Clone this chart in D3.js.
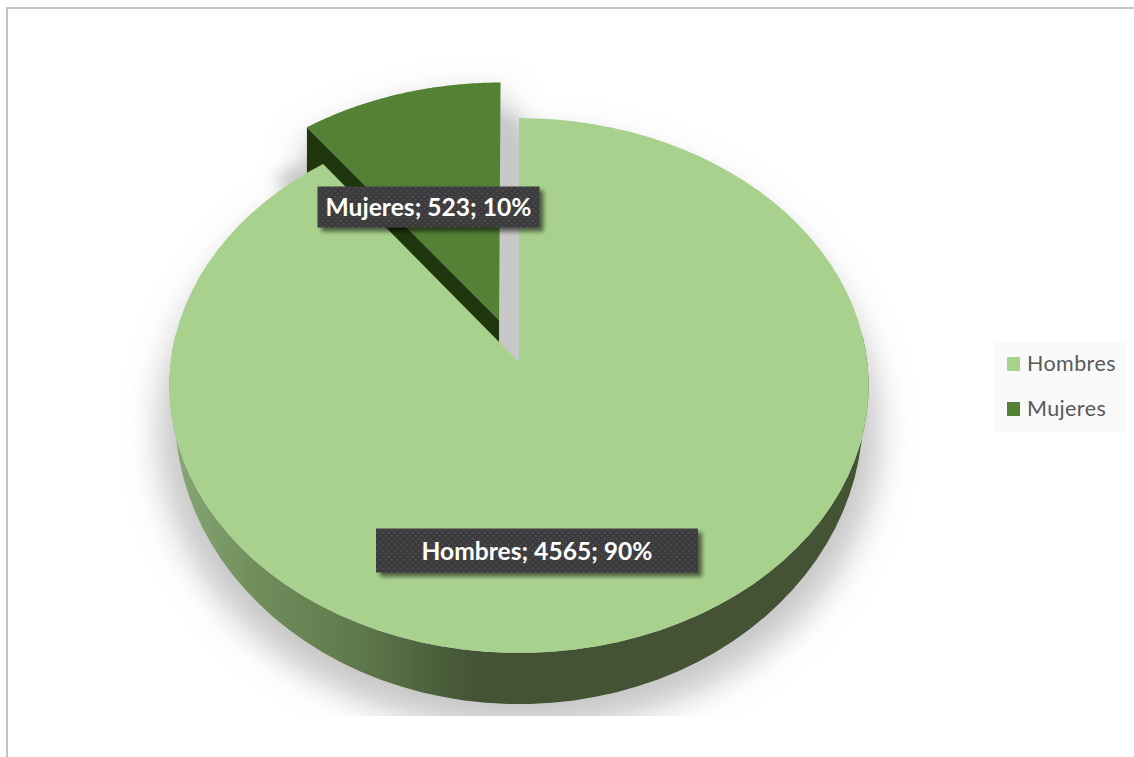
<!DOCTYPE html>
<html>
<head>
<meta charset="utf-8">
<script src="https://cdn.jsdelivr.net/npm/d3@7"></script>
<style>
  html, body { margin: 0; padding: 0; background: #fff; }
  svg { display: block; }
  text { font-family: Lato, "Open Sans", sans-serif; }
</style>
</head>
<body>
<svg id="chart" width="1134" height="757"></svg>
<script>
// Chart data
const categories = ["Hombres", "Mujeres"];
const seriesValues = [4565, 523];
const percentLabels = ["90%", "10%"];
const sliceColors = ["#a9d18e", "#548235"];

const svg = d3.select("#chart");
const defs = svg.append("defs");

// Perspective mapping of the unit disc to the page: top face, underside, cast shadow
const topFace = { x0: 519, y0: 362, bx: 348.3, by: 265.4, k: 0.0878 };
const underFace = { x0: 519, y0: 388.4, bx: 342.7, by: 288, k: 0.0878 };
const pulledFace = { ...topFace, x0: 517.5 };
const pulledUnder = { ...pulledFace, y0: topFace.y0 + 46 };
const shadowDisc = { x0: 519, y0: 405.8, bx: 359.6, by: 295.7, k: 0.0878 };
const project = (face, u, v) => {
  const w = 1 + face.k * v;
  return [face.x0 + face.bx * u / w, face.y0 - face.by * v / w];
};
const explode = 0.169;

const pieLayout = d3.pie().sort(null).value(d => d)(seriesValues);
const arcSteps = 96;

// Disc coordinates of a wedge outline, with the hub first
function wedge(slice, offset) {
  const mid = (slice.startAngle + slice.endAngle) / 2;
  const ox = Math.sin(mid) * offset, oy = Math.cos(mid) * offset;
  const rim = d3.range(arcSteps + 1).map(i => {
    const a = slice.startAngle + (slice.endAngle - slice.startAngle) * i / arcSteps;
    return [Math.sin(a) + ox, Math.cos(a) + oy];
  });
  return { hub: [ox, oy], rim };
}
const line = d3.line();
const face = (f, pts) => pts.map(p => project(f, p[0], p[1]));

const men = wedge(pieLayout[0], 0);
const women = wedge(pieLayout[1], explode);

// Soft filters
const soft = defs.append("filter").attr("id", "soft").attr("x", "-20%").attr("y", "-20%").attr("width", "140%").attr("height", "140%");
soft.append("feGaussianBlur").attr("stdDeviation", 16);
const tight = defs.append("filter").attr("id", "tight").attr("x", "-30%").attr("y", "-30%").attr("width", "160%").attr("height", "160%");
tight.append("feGaussianBlur").attr("stdDeviation", 8);
const boxBlur = defs.append("filter").attr("id", "boxBlur").attr("x", "-10%").attr("y", "-30%").attr("width", "120%").attr("height", "160%");
boxBlur.append("feGaussianBlur").attr("stdDeviation", 2);

// Shading along the front wall of the large slice
const wall = defs.append("linearGradient").attr("id", "wall")
  .attr("gradientUnits", "userSpaceOnUse").attr("x1", 170).attr("x2", 870).attr("y1", 0).attr("y2", 0);
[[0, "#89a877"], [0.12, "#708f5d"], [0.26, "#5f7b4d"], [0.44, "#435334"], [1, "#435334"]]
  .forEach(([o, c]) => wall.append("stop").attr("offset", o).attr("stop-color", c));

// Dotted fill of the value labels
const dots = defs.append("pattern").attr("id", "dots").attr("patternUnits", "userSpaceOnUse")
  .attr("width", 6).attr("height", 6);
dots.append("rect").attr("width", 6).attr("height", 6).attr("fill", "#3c3c3e");
dots.append("rect").attr("x", 1).attr("y", 1).attr("width", 1.5).attr("height", 1.5).attr("fill", "#525254");
dots.append("rect").attr("x", 4).attr("y", 4).attr("width", 1.5).attr("height", 1.5).attr("fill", "#525254");

// Frame lines along the top and left
svg.append("rect").attr("x", 0).attr("y", 0).attr("width", 1134).attr("height", 757).attr("fill", "#fff");
svg.append("rect").attr("x", 6).attr("y", 7).attr("width", 1128).attr("height", 2).attr("fill", "#c4c4c4");
svg.append("rect").attr("x", 6).attr("y", 7).attr("width", 2).attr("height", 750).attr("fill", "#c4c4c4");

// Cast shadows, cut off at the bottom of the plot area
defs.append("clipPath").attr("id", "plotClip").append("rect")
  .attr("x", 8).attr("y", 9).attr("width", 1126).attr("height", 707);
const shadowLayer = svg.append("g").attr("clip-path", "url(#plotClip)");
shadowLayer.append("path")
  .attr("d", line(face(shadowDisc, men.rim.concat(women.rim))) + "Z")
  .attr("fill", "#c8c8c8").attr("filter", "url(#soft)");
shadowLayer.append("path")
  .attr("d", line(face(pulledFace, [women.hub].concat(women.rim))) + "Z")
  .attr("transform", "translate(0,56)")
  .attr("fill", "#c8c8c8").attr("stroke", "#c8c8c8").attr("stroke-width", 40)
  .attr("filter", "url(#tight)");

// Pulled-out slice: cut wall (its lower part runs behind the large slice), then top
const womenSide = [women.rim[0], women.hub];
svg.append("path")
  .attr("d", line(face(pulledFace, womenSide).concat(face(pulledUnder, womenSide).reverse())) + "Z")
  .attr("fill", "#20360f");
svg.append("path")
  .attr("d", line(face(pulledFace, [women.hub].concat(women.rim))) + "Z")
  .attr("fill", sliceColors[1]);

// Large slice: front wall then top
const frontRim = men.rim.filter(p => p[1] < 0.12);
svg.append("path")
  .attr("d", line(face(topFace, frontRim).concat(face(underFace, frontRim).reverse())) + "Z")
  .attr("fill", "url(#wall)");
svg.append("path")
  .attr("d", line(face(topFace, [men.hub].concat(men.rim))) + "Z")
  .attr("fill", sliceColors[0]);

// Value labels
const labelBoxes = [
  { cx: 537, cy: 550.5, w: 322, h: 44 },
  { cx: 428.5, cy: 207, w: 222, h: 41 }
];
labelBoxes.forEach((b, i) => {
  const g = svg.append("g");
  g.append("rect").attr("x", b.cx - b.w / 2 + 4).attr("y", b.cy - b.h / 2 + 4)
    .attr("width", b.w).attr("height", b.h).attr("fill", "#000").attr("opacity", 0.55).attr("filter", "url(#boxBlur)");
  g.append("rect").attr("x", b.cx - b.w / 2).attr("y", b.cy - b.h / 2)
    .attr("width", b.w).attr("height", b.h).attr("fill", "url(#dots)");
  g.append("text").attr("x", b.cx).attr("y", b.cy + 9).attr("text-anchor", "middle")
    .attr("font-size", 24.6).attr("font-weight", 700).attr("fill", "#fff")
    .text(`${categories[i]}; ${seriesValues[i]}; ${percentLabels[i]}`);
});

// Legend
const legend = svg.append("g");
legend.append("rect").attr("x", 994).attr("y", 342).attr("width", 132).attr("height", 89).attr("fill", "#f9f9f9");
const legendY = d3.scalePoint().domain(categories).range([364, 409]);
categories.forEach((c, i) => {
  legend.append("rect").attr("x", 1007).attr("y", legendY(c) - 7).attr("width", 13).attr("height", 14).attr("fill", sliceColors[i]);
  legend.append("text").attr("x", 1027).attr("y", legendY(c) + 7).attr("font-size", 21.5)
    .attr("letter-spacing", 0.4).attr("fill", "#595959").text(c);
});
</script>
</body>
</html>
